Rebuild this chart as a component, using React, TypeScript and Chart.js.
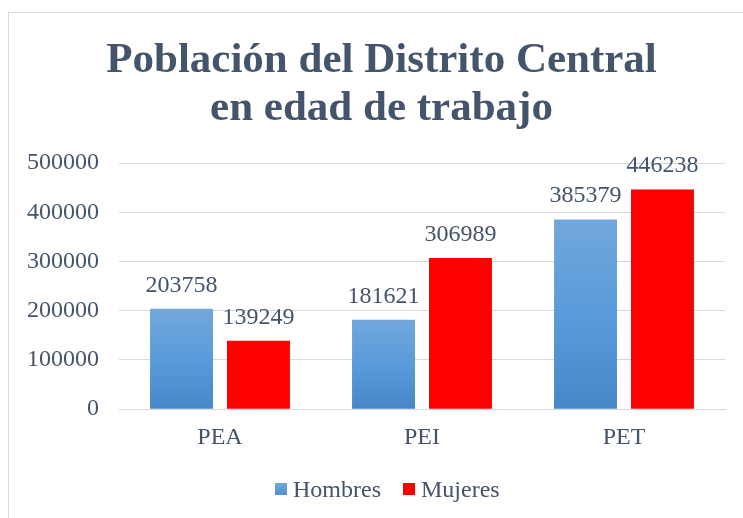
import React, { useEffect, useRef } from "react";
import { Chart, registerables } from "chart.js";

Chart.register(...registerables);

const categories = ["PEA", "PEI", "PET"];
const hombres = [203758, 181621, 385379];
const mujeres = [139249, 306989, 446238];
const seriesNames = ["Hombres", "Mujeres"];
const seriesColors = ["#5B9BD5", "#FF0000"];
const titleLines = ["Población del Distrito Central", "en edad de trabajo"];

const FONT = "'Liberation Serif', 'Times New Roman', serif";
const TEXT = "#44546A";

const dataLabels = {
  id: "dataLabels",
  afterDatasetsDraw(chart: any) {
    const ctx = chart.ctx;
    ctx.save();
    ctx.font = `24px ${FONT}`;
    ctx.fillStyle = TEXT;
    ctx.textAlign = "center";
    ctx.textBaseline = "alphabetic";
    chart.data.datasets.forEach((ds: any, i: number) => {
      const meta = chart.getDatasetMeta(i);
      meta.data.forEach((el: any, j: number) => {
        ctx.fillText(String(ds.data[j]), el.x, el.y - 17);
      });
    });
    ctx.restore();
  },
};

const titlePlugin = {
  id: "offsetTitle",
  afterDraw(chart: any) {
    const ctx = chart.ctx;
    ctx.save();
    ctx.font = `bold 43px ${FONT}`;
    ctx.fillStyle = TEXT;
    ctx.textAlign = "center";
    ctx.textBaseline = "alphabetic";
    titleLines.forEach((line, i) => {
      ctx.fillText(line, 372.5, 59 + i * 48);
    });
    ctx.restore();
  },
};

function blueGradient(c: any) {
  const chart = c.chart;
  if (c.type !== "data" || !chart.chartArea) return seriesColors[0];
  const y = chart.scales.y;
  const top = y.getPixelForValue(c.raw);
  const bottom = y.getPixelForValue(0);
  const g = chart.ctx.createLinearGradient(0, top, 0, bottom);
  g.addColorStop(0, "#72A7DC");
  g.addColorStop(0.5, "#5A9BDA");
  g.addColorStop(1, "#4787C7");
  return g;
}

export default function App() {
  const ref = useRef<HTMLCanvasElement>(null);
  useEffect(() => {
    if (!ref.current) return;
    const chart = new Chart(ref.current, {
      type: "bar",
      data: {
        labels: categories,
        datasets: [
          { label: seriesNames[0], data: hombres, backgroundColor: blueGradient as any },
          { label: seriesNames[1], data: mujeres, backgroundColor: seriesColors[1] },
        ],
      },
      plugins: [dataLabels, titlePlugin],
      options: {
        responsive: false,
        animation: false,
        devicePixelRatio: 1,
        datasets: { bar: { categoryPercentage: 0.762, barPercentage: 0.818 } } as any,
        layout: { padding: { left: 0, right: 18, top: 150, bottom: 52 } },
        plugins: {
          title: { display: false },
          legend: { display: false },
          tooltip: { enabled: false },
        },
        scales: {
          x: {
            grid: { display: false, drawTicks: false },
            border: { display: true, color: "#D9D9D9", width: 1 },
            ticks: { color: TEXT, font: { family: FONT, size: 24 }, padding: 14 },
          },
          y: {
            min: 0,
            max: 500000,
            grid: { color: "#D9D9D9", lineWidth: 1, drawTicks: false },
            border: { display: false },
            ticks: {
              stepSize: 100000,
              color: TEXT,
              font: { family: FONT, size: 24 },
              padding: 20,
              callback: (v: any) => String(v),
            },
            afterFit(s: any) {
              s.width = 110;
            },
          },
        },
      },
    });
    return () => chart.destroy();
  }, []);

  const legendItem = (i: number, boxBg: string) => (
    <div key={i} style={{ display: "flex", alignItems: "center", marginRight: i === 0 ? 22 : 0 }}>
      <span style={{ display: "inline-block", width: 12, height: 12, background: boxBg, marginRight: 6 }} />
      <span>{seriesNames[i]}</span>
    </div>
  );

  return (
    <div
      style={{
        position: "absolute",
        left: 8,
        top: 12,
        width: 735,
        height: 506,
        borderLeft: "1px solid #D9D9D9",
        borderTop: "1px solid #D9D9D9",
        boxSizing: "border-box",
        overflow: "hidden",
        background: "#fff",
      }}
    >
      <canvas ref={ref} width={734} height={505} style={{ display: "block" }} />
      <div
        style={{
          position: "absolute",
          left: 266,
          top: 460,
          height: 32,
          display: "flex",
          alignItems: "center",
          fontFamily: FONT,
          fontSize: 24,
          color: TEXT,
          whiteSpace: "nowrap",
        }}
      >
        {legendItem(0, "linear-gradient(#72A7DC, #4F8FCF)")}
        {legendItem(1, seriesColors[1])}
      </div>
    </div>
  );
}
